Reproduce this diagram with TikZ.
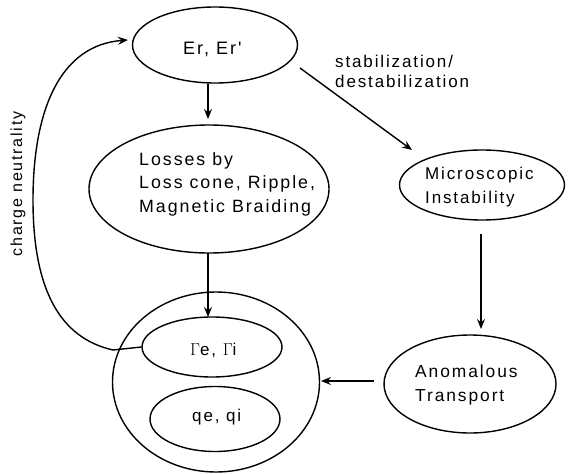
\documentclass[tikz,border=0pt]{standalone}
\usepackage{fontspec}
\setmainfont{Liberation Sans}
\newfontfamily\diagfont[LetterSpace=11]{Liberation Sans}
\usetikzlibrary{shapes.geometric,arrows.meta}
\tikzset{
  oval/.style={ellipse, draw, line width=1.4pt, inner sep=0pt},
  flow/.style={line width=1.4pt, -{Stealth[length=10pt,width=8pt,inset=3.5pt]}},
  txt/.style={font=\diagfont\fontsize{17}{23.5}\selectfont, align=left, inner sep=0pt, anchor=base west},
  smalltxt/.style={font=\diagfont\fontsize{17}{20}\selectfont, align=left, inner sep=0pt, anchor=base west}
}
\begin{document}
\begin{tikzpicture}[x=1pt,y=-1pt]
\useasboundingbox (0,0) rectangle (576,474);
% ellipses
\node[oval, minimum width=165, minimum height=76] (er) at (215,45) {};
\node[oval, minimum width=240, minimum height=128] (loss) at (209,189) {};
\node[oval, minimum width=165, minimum height=70] (micro) at (482,185) {};
\node[oval, minimum width=172, minimum height=98] (anom) at (470,384) {};
\node[oval, minimum width=207, minimum height=180] (grp) at (216,382) {};
\node[oval, minimum width=140, minimum height=60] (gam) at (212,347) {};
\node[oval, minimum width=130, minimum height=65] (heat) at (215,419) {};
% texts inside the ellipses (multi-line texts sit on their last baseline)
\node[txt, font=\diagfont\fontsize{18}{23}\selectfont] (ert) at (183,54) {Er, Er'};
\node[txt, font=\diagfont\fontsize{17.8}{23.5}\selectfont] (losst) at (139,212) {Losses by\\Loss cone, Ripple,\\Magnetic Braiding};
\node[txt] (microt) at (425,203) {Microscopic\\Instability};
\node[txt, font=\diagfont\fontsize{17.4}{24}\selectfont] (anomt) at (415,401) {Anomalous\\Transport};
\node[txt] (gamt) at (190,355) {$\Gamma$e, $\Gamma$i};
\node[txt] (heatt) at (192,421) {qe, qi};
% connectors
\coordinate (e1) at (208,84);
\coordinate (l1) at (208,119);
\draw[flow] (e1) -- (l1);
\coordinate (l2) at (208,253);
\coordinate (g1) at (208,317);
\draw[flow] (l2) -- (g1);
\coordinate (e2) at (300,68);
\coordinate (m1) at (412,150);
\draw[flow] (e2) -- (m1);
\coordinate (m2) at (481,234);
\coordinate (a2) at (481,329);
\draw[flow] (m2) -- (a2);
\coordinate (a3) at (374,381);
\coordinate (g2) at (321,381);
\draw[flow] (a3) -- (g2);
\coordinate (cn) at (113,350);
\draw[line width=1.4pt] (gam.west) -- (cn);
\draw[flow] (cn) .. controls (60,338) and (33,290) .. (33,200)
  .. controls (33,110) and (60,45) .. (128,40);
% labels on connectors
\node[smalltxt] (stab) at (335,87) {stabilization/\\destabilization};
\node[font=\diagfont\fontsize{16}{20}\selectfont, inner sep=0pt, rotate=90] (chg) at (18,184) {charge neutrality};
\end{tikzpicture}
\end{document}
